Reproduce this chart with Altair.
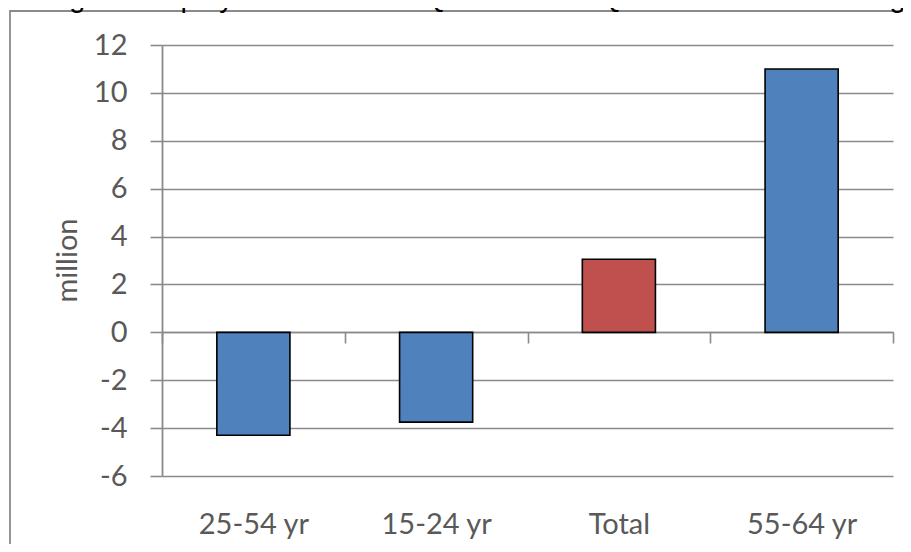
import altair as alt
import pandas as pd

categories = ["25-54 yr", "15-24 yr", "Total", "55-64 yr"]
values = [-4.3, -3.75, 3.05, 11.0]
groups = ["age", "age", "total", "age"]
group_colors = ["#4F81BD", "#C0504D"]
y_ticks = [-6, -4, -2, 0, 2, 4, 6, 8, 10, 12]
title_text = "Change in employment between Q3 2008 and Q4 2017 for different age groups"
y_title = "million"

df = pd.DataFrame({"category": categories, "value": values, "group": groups})

W, H = 731, 431
GRAY = "#8a8a8a"
LABEL = "#595959"
FONT = "Lato"

bars = alt.Chart(df).mark_bar(
    stroke="#000000", strokeWidth=1.6, width={"band": 0.4}
).encode(
    x=alt.X(
        "category:N",
        sort=categories,
        scale=alt.Scale(paddingInner=0, paddingOuter=0),
        axis=alt.Axis(
            title=None,
            orient="bottom",
            offset=-144,
            tickBand="extent",
            tickSize=11,
            tickWidth=1.6,
            tickColor=GRAY,
            domainColor=GRAY,
            domainWidth=1.6,
            labelFont=FONT,
            labelFontSize=29,
            labelColor=LABEL,
            labelPadding=167,
            labelAngle=0,
            grid=False,
        ),
    ),
    y=alt.Y(
        "value:Q",
        scale=alt.Scale(domain=[-6, 12], nice=False, zero=False),
        axis=alt.Axis(
            values=y_ticks,
            labelExpr="toString(datum.value)",
            title=y_title,
            titleFont=FONT,
            titleFontSize=29,
            titleFontWeight="normal",
            titleColor=LABEL,
            titleAngle=-90,
            titleX=-86,
            titleY=215,
            titleAlign="center",
            titleBaseline="alphabetic",
            labelFont=FONT,
            labelFontSize=29,
            labelColor=LABEL,
            labelPadding=23,
            tickSize=12,
            tickWidth=1.6,
            tickColor=GRAY,
            domainColor=GRAY,
            domainWidth=1.8,
            gridColor=GRAY,
            gridWidth=1.6,
            gridOpacity=1,
        ),
    ),
    color=alt.Color(
        "group:N",
        scale=alt.Scale(domain=["age", "total"], range=group_colors),
        legend=None,
    ),
)

frame_df = pd.DataFrame({"k": [0]})
frame = alt.Chart(frame_df).mark_rect(
    fill="transparent", stroke=GRAY, strokeWidth=1.8
).encode(
    x=alt.value(-152), x2=alt.value(770), y=alt.value(-34), y2=alt.value(540)
)

title_df = pd.DataFrame({"t": [title_text]})
title = alt.Chart(title_df).mark_text(
    font="Liberation Sans", fontSize=29, color="#000000",
    align="left", baseline="alphabetic"
).encode(
    text="t:N", x=alt.value(-162), y=alt.value(-38)
)

chart = alt.layer(frame, bars, title).properties(
    width=W,
    height=H,
    autosize=alt.AutoSizeParams(type="none"),
    padding={"left": 154, "top": 37, "right": 10, "bottom": 68},
).configure_view(stroke=None)

chart.save("out.html", embed_options={"renderer": "svg", "actions": False})
